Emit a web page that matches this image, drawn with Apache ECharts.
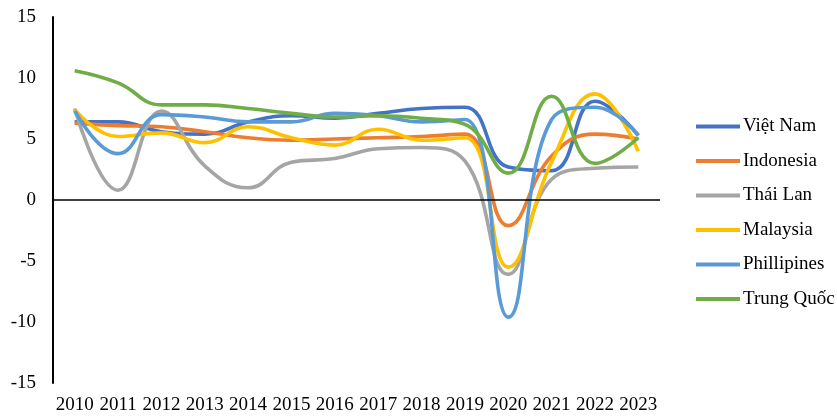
<!DOCTYPE html>
<html><head><meta charset="utf-8">
<script src="https://cdn.jsdelivr.net/npm/echarts@6/dist/echarts.min.js"></script>
<style>html,body{margin:0;padding:0;background:#fff}#c{width:837px;height:419px}</style>
</head><body><div id="c"></div>
<script>
const years = ['2010','2011','2012','2013','2014','2015','2016','2017','2018','2019','2020','2021','2022','2023'];
const vietNam    = [6.4, 6.4, 5.6, 5.4, 6.4, 6.9, 6.7, 7.1, 7.5, 7.6, 2.7, 2.4, 8.1, 5.3];
const indonesia  = [6.3, 6.1, 6.0, 5.6, 5.1, 4.9, 5.0, 5.1, 5.2, 5.4, -2.1, 3.6, 5.4, 5.0];
const thaiLan    = [7.5, 0.8, 7.3, 2.8, 1.0, 3.1, 3.4, 4.2, 4.3, 3.2, -6.1, 1.7, 2.6, 2.7];
const malaysia   = [7.4, 5.2, 5.5, 4.7, 6.0, 5.1, 4.5, 5.8, 4.9, 5.1, -5.5, 3.1, 8.7, 4.0];
const phillipines= [7.3, 3.8, 7.0, 6.8, 6.4, 6.4, 7.1, 6.9, 6.4, 6.6, -9.6, 6.6, 7.6, 5.3];
const trungQuoc  = [10.6, 9.6, 7.8, 7.8, 7.5, 7.1, 6.8, 6.9, 6.7, 6.2, 2.2, 8.5, 3.0, 5.1];
const yTicks = {min: -15, max: 15, interval: 5};

const seriesDefs = [
  ['Việt Nam', vietNam, '#4472C4'],
  ['Indonesia', indonesia, '#ED7D31'],
  ['Thái Lan', thaiLan, '#A5A5A5'],
  ['Malaysia', malaysia, '#FFC000'],
  ['Phillipines', phillipines, '#5B9BD5'],
  ['Trung Quốc', trungQuoc, '#70AD47']
];
const font = 'Liberation Serif';
const chart = echarts.init(document.getElementById('c'), null, {renderer: 'canvas'});
const series = seriesDefs.map(([name, data, color], i) => ({
  name, type: 'line', data, smooth: 0.45, showSymbol: false, symbol: 'none',
  lineStyle: {color, width: 3.6}, itemStyle: {color},
  ...(i === 0 ? {markLine: {silent: true, symbol: 'none', label: {show: false},
      lineStyle: {color: '#000', width: 1.5, type: 'solid'}, data: [{yAxis: 0}]}} : {})
}));
chart.setOption({
  animation: false,
  grid: {left: 53, right: 177, top: 17, bottom: 36},
  legend: {
    orient: 'vertical', left: 691, top: 112, itemGap: 15.5,
    icon: 'rect', itemWidth: 44, itemHeight: 4,
    textStyle: {fontFamily: font, fontSize: 19, color: '#000', padding: [0, 0, 0, -2]},
    data: seriesDefs.map(d => d[0])
  },
  xAxis: {
    type: 'category', data: years, boundaryGap: true,
    axisLine: {show: false, onZero: false}, axisTick: {show: false},
    axisLabel: {fontFamily: font, fontSize: 19, color: '#000', margin: 13, interval: 0},
    splitLine: {show: false}
  },
  yAxis: {
    type: 'value', min: yTicks.min, max: yTicks.max, interval: yTicks.interval,
    axisLine: {show: true, lineStyle: {color: '#000', width: 2}},
    axisTick: {show: false}, splitLine: {show: false},
    axisLabel: {fontFamily: font, fontSize: 19, color: '#000', margin: 17}
  },
  series
});
</script></body></html>
